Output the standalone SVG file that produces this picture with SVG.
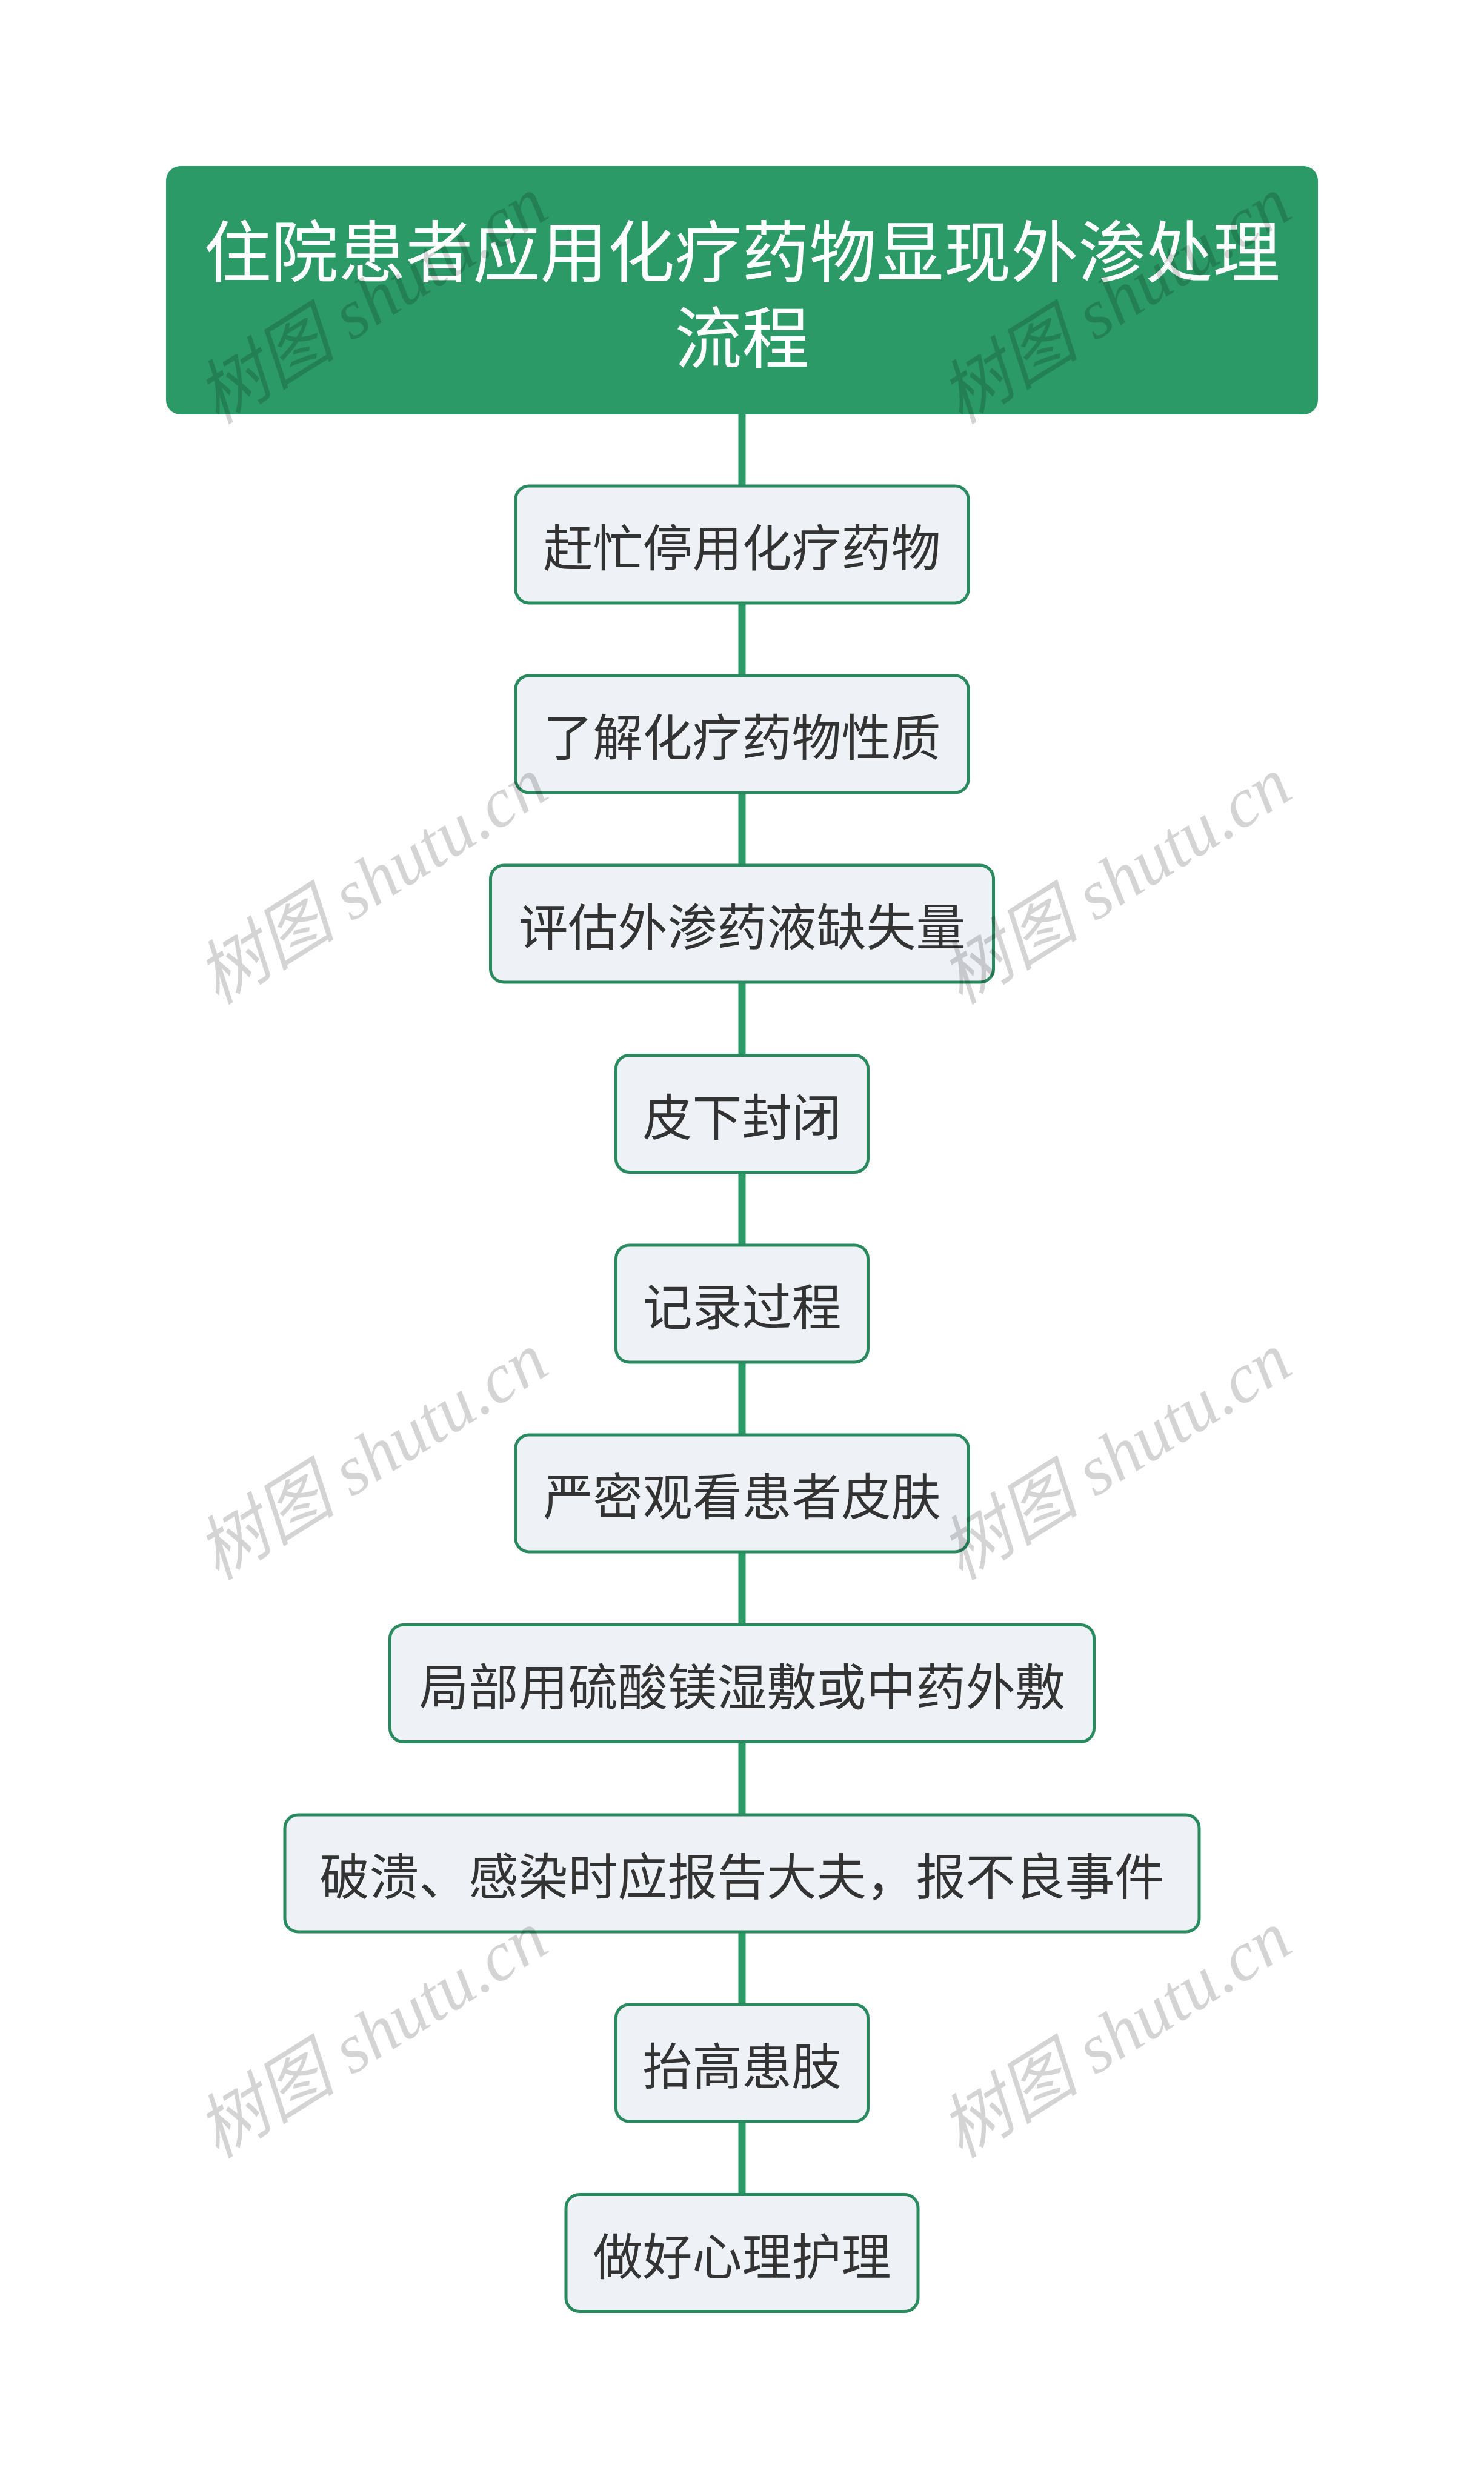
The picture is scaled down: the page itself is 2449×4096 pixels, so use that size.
<svg xmlns="http://www.w3.org/2000/svg" width="2449" height="4096" viewBox="0 0 2449 4096">
<style>
.node rect{fill:#eef1f5;stroke:#2a8a5f;stroke-width:5}
.node text{font-family:"Noto Sans CJK SC","Noto Sans",sans-serif;font-size:82px;fill:#333333;text-anchor:middle;dominant-baseline:central}
.title rect{fill:#2b9a66}
.title text{font-family:"Noto Sans CJK SC","Noto Sans",sans-serif;font-size:111px;fill:#ffffff;text-anchor:middle;dominant-baseline:central}
.conn line{stroke:#2b9a66;stroke-width:12}
.wm text{font-family:"Liberation Serif","Noto Sans CJK SC",serif;font-style:italic;font-size:116px;fill:#000000;fill-opacity:0.17;text-anchor:middle;dominant-baseline:central}
</style>
<rect width="2449" height="4096" fill="#ffffff"/>
<g class="conn" id="connectors">
<line x1="1224.5" y1="684" x2="1224.5" y2="802"/>
<line x1="1224.5" y1="995" x2="1224.5" y2="1115"/>
<line x1="1224.5" y1="1308" x2="1224.5" y2="1428"/>
<line x1="1224.5" y1="1621" x2="1224.5" y2="1741"/>
<line x1="1224.5" y1="1935" x2="1224.5" y2="2055"/>
<line x1="1224.5" y1="2248" x2="1224.5" y2="2368"/>
<line x1="1224.5" y1="2561" x2="1224.5" y2="2681"/>
<line x1="1224.5" y1="2875" x2="1224.5" y2="2995"/>
<line x1="1224.5" y1="3188" x2="1224.5" y2="3308"/>
<line x1="1224.5" y1="3501" x2="1224.5" y2="3621"/>
</g>
<g class="title" id="title">
<rect x="274" y="274" width="1901" height="410" rx="24"/>
<text x="1224.5" y="408">住院患者应用化疗药物显现外渗处理</text>
<text x="1224.5" y="550">流程</text>
</g>
<g class="node" id="n1"><rect x="851" y="802" width="747" height="193" rx="22"/><text x="1224.5" y="898.5">赶忙停用化疗药物</text></g>
<g class="node" id="n2"><rect x="851" y="1115" width="747" height="193" rx="22"/><text x="1224.5" y="1211.5">了解化疗药物性质</text></g>
<g class="node" id="n3"><rect x="809.5" y="1428" width="830" height="193" rx="22"/><text x="1224.5" y="1524.5">评估外渗药液缺失量</text></g>
<g class="node" id="n4"><rect x="1016.5" y="1741.5" width="416" height="193" rx="22"/><text x="1224.5" y="1838">皮下封闭</text></g>
<g class="node" id="n5"><rect x="1016.5" y="2055" width="416" height="193" rx="22"/><text x="1224.5" y="2151.5">记录过程</text></g>
<g class="node" id="n6"><rect x="851" y="2368" width="747" height="193" rx="22"/><text x="1224.5" y="2464.5">严密观看患者皮肤</text></g>
<g class="node" id="n7"><rect x="643.5" y="2681.5" width="1162" height="193" rx="22"/><text x="1224.5" y="2778">局部用硫酸镁湿敷或中药外敷</text></g>
<g class="node" id="n8"><rect x="470" y="2995" width="1509" height="193" rx="22"/><text x="1224.5" y="3091.5">破溃、感染时应报告大夫，报不良事件</text></g>
<g class="node" id="n9"><rect x="1016.5" y="3308" width="416" height="193" rx="22"/><text x="1224.5" y="3404.5">抬高患肢</text></g>
<g class="node" id="n10"><rect x="934" y="3621.5" width="581" height="193" rx="22"/><text x="1224.5" y="3718">做好心理护理</text></g>
<g class="wm" id="watermark">
<text transform="translate(614,496) rotate(-32)">树图 shutu.cn</text>
<text transform="translate(1841,496) rotate(-32)">树图 shutu.cn</text>
<text transform="translate(614,1454) rotate(-32)">树图 shutu.cn</text>
<text transform="translate(1841,1454) rotate(-32)">树图 shutu.cn</text>
<text transform="translate(614,2404) rotate(-32)">树图 shutu.cn</text>
<text transform="translate(1841,2404) rotate(-32)">树图 shutu.cn</text>
<text transform="translate(614,3358) rotate(-32)">树图 shutu.cn</text>
<text transform="translate(1841,3358) rotate(-32)">树图 shutu.cn</text>
</g>
</svg>
